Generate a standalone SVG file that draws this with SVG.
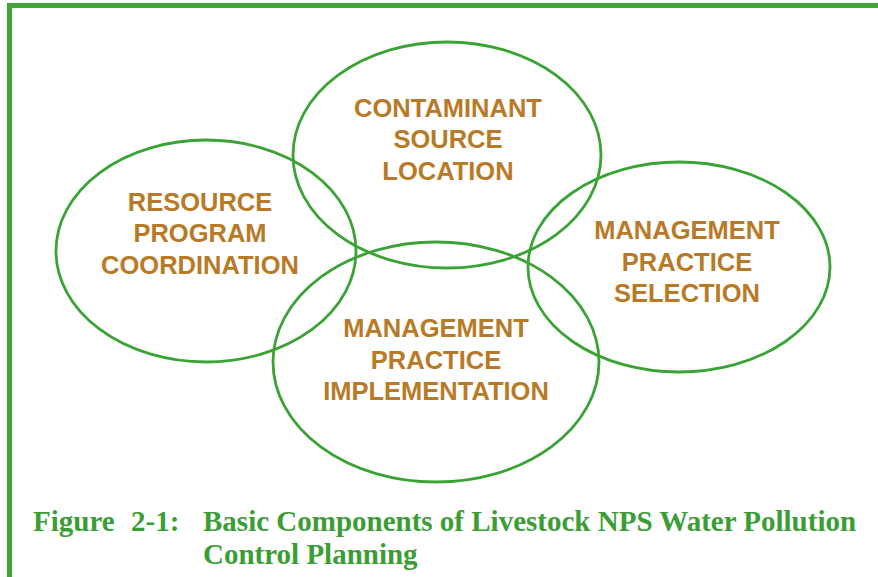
<svg xmlns="http://www.w3.org/2000/svg" width="878" height="577" viewBox="0 0 878 577">
  <style>
    .frame { fill: none; stroke: #3fa535; stroke-width: 5; }
    .ring { fill: none; stroke: #3ba335; stroke-width: 2.8; }
    .label { font-family: "Liberation Sans", Arial, sans-serif; font-weight: bold; font-size: 25.5px; fill: #b87a27; text-anchor: middle; }
    .caption { font-family: "Liberation Serif", "Times New Roman", serif; font-weight: bold; font-size: 29px; fill: #3a9e35; }
  </style>
  <rect width="878" height="577" fill="#ffffff"/>
  <!-- page border (top and left edges) -->
  <path class="frame" d="M9.5 577 V5.5 H878"/>

  <g id="resource-program-coordination">
    <ellipse class="ring" cx="206" cy="251" rx="150" ry="111"/>
    <text class="label" x="200" y="210.5">RESOURCE</text>
    <text class="label" x="200" y="242">PROGRAM</text>
    <text class="label" x="200" y="273.5">COORDINATION</text>
  </g>

  <g id="contaminant-source-location">
    <ellipse class="ring" cx="447" cy="155" rx="154" ry="113"/>
    <text class="label" x="448" y="116.5">CONTAMINANT</text>
    <text class="label" x="448" y="148">SOURCE</text>
    <text class="label" x="448" y="180">LOCATION</text>
  </g>

  <g id="management-practice-selection">
    <ellipse class="ring" cx="679" cy="267" rx="151" ry="105"/>
    <text class="label" x="687" y="239">MANAGEMENT</text>
    <text class="label" x="687" y="270.5">PRACTICE</text>
    <text class="label" x="687" y="302">SELECTION</text>
  </g>

  <g id="management-practice-implementation">
    <ellipse class="ring" cx="436" cy="362" rx="163" ry="120"/>
    <text class="label" x="436" y="337">MANAGEMENT</text>
    <text class="label" x="436" y="368.5">PRACTICE</text>
    <text class="label" x="436" y="400">IMPLEMENTATION</text>
  </g>

  <g id="connectors"></g>

  <g id="caption">
    <text class="caption" x="33" y="531">Figure</text>
    <text class="caption" x="131" y="531">2-1:</text>
    <text class="caption" x="203" y="531">Basic Components of Livestock NPS Water Pollution</text>
    <text class="caption" x="203" y="564">Control Planning</text>
  </g>
</svg>
